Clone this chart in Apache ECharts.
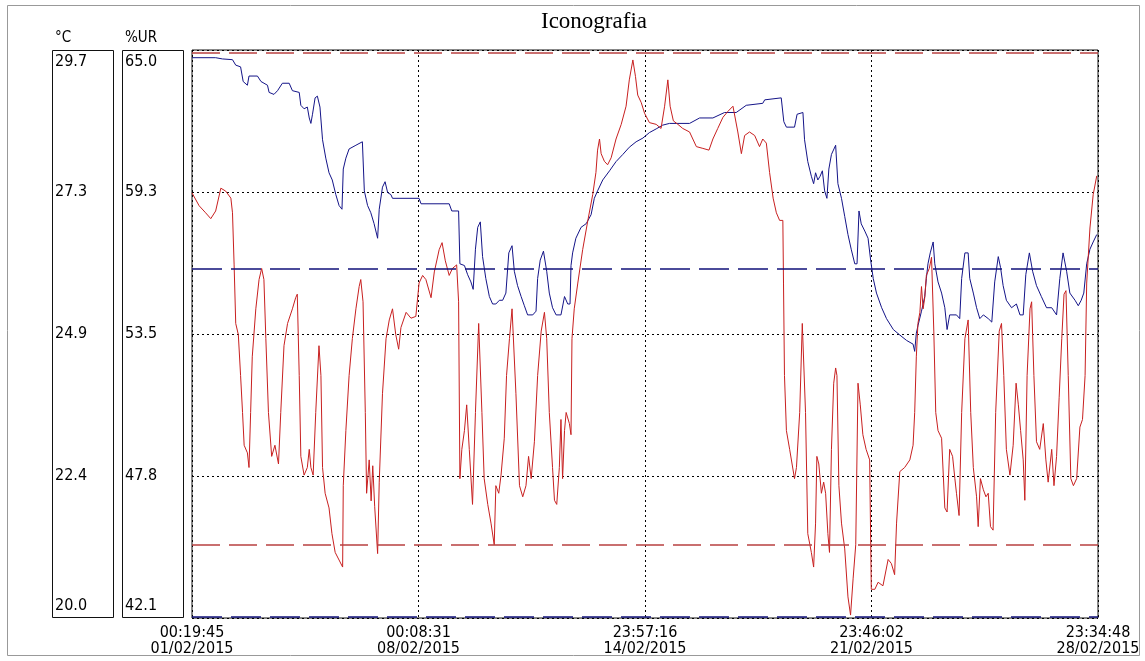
<!DOCTYPE html>
<html><head><meta charset="utf-8">
<script src="https://cdn.jsdelivr.net/npm/echarts@6/dist/echarts.min.js"></script>
<style>html,body{margin:0;padding:0;background:#fff}#c{width:1145px;height:661px}</style>
</head><body><div id="c"></div>
<script>
const chartTitle = 'Iconografia';
const xTickLabels = ['00:19:45\n01/02/2015','00:08:31\n08/02/2015','23:57:16\n14/02/2015','23:46:02\n21/02/2015','23:34:48\n28/02/2015'];
const tempTickLabels = ['20.0','22.4','24.9','27.3','29.7'];
const humTickLabels = ['42.1','47.8','53.5','59.3','65.0'];
const tempName = '°C';
const humName = '%UR';
const tempRange = [20.0, 29.7];
const humRange = [42.1, 65.0];
const tempLimits = [29.66, 21.25];
const humLimits = [56.2, 42.15];
const tickSpanSeconds = 604126; // 6d 23:48:46 between labelled ticks

// [days since 01/02/2015 00:19:45, °C]
const temperature = [[0,27.26],[0.06,27.29],[0.22,27.04],[0.42,26.92],[0.58,26.82],[0.73,26.95],[0.89,27.34],[1.04,27.29],[1.20,27.17],[1.25,26.92],[1.30,26.03],[1.35,25.03],[1.43,24.84],[1.50,24.14],[1.56,23.51],[1.61,22.95],[1.71,22.82],[1.76,22.57],[1.81,23.51],[1.86,24.46],[1.97,25.28],[2.07,25.78],[2.15,25.97],[2.22,25.78],[2.28,24.77],[2.36,23.51],[2.46,22.76],[2.56,22.95],[2.67,22.63],[2.74,23.51],[2.84,24.65],[2.95,25.03],[3.10,25.28],[3.20,25.47],[3.25,25.53],[3.31,24.14],[3.36,22.76],[3.46,22.44],[3.56,22.57],[3.62,22.88],[3.67,22.57],[3.74,22.44],[3.82,23.51],[3.92,24.65],[3.98,24.14],[4.03,22.57],[4.11,22.13],[4.23,21.88],[4.32,21.44],[4.42,21.12],[4.54,20.99],[4.65,20.87],[4.67,22.26],[4.75,23.20],[4.85,24.14],[4.95,24.77],[5.06,25.28],[5.16,25.66],[5.21,25.78],[5.28,25.40],[5.35,23.51],[5.39,22.13],[5.47,22.70],[5.53,22.0],[5.58,22.6],[5.64,21.9],[5.73,21.1],[5.78,22.32],[5.88,23.83],[5.99,24.77],[6.09,25.09],[6.19,25.28],[6.29,24.84],[6.38,24.59],[6.45,24.96],[6.61,25.22],[6.76,25.12],[6.91,25.15],[7.01,25.72],[7.12,25.85],[7.22,25.78],[7.38,25.47],[7.48,25.91],[7.63,26.29],[7.72,26.41],[7.82,26.10],[7.94,25.85],[8.04,25.97],[8.17,26.03],[8.23,25.40],[8.27,22.38],[8.33,22.88],[8.41,23.20],[8.48,23.64],[8.56,22.88],[8.66,21.94],[8.75,23.51],[8.85,25.03],[8.90,25.03],[8.95,23.51],[9.02,22.38],[9.13,21.94],[9.23,21.62],[9.33,21.25],[9.38,22.26],[9.47,22.13],[9.54,22.44],[9.64,23.07],[9.71,24.14],[9.80,24.77],[9.88,25.28],[9.93,25.28],[10.00,23.83],[10.11,22.26],[10.21,22.07],[10.31,22.26],[10.39,22.76],[10.47,22.38],[10.57,23.01],[10.67,24.14],[10.78,24.90],[10.88,25.22],[10.95,24.77],[11.03,23.51],[11.13,22.57],[11.19,22.01],[11.26,21.94],[11.34,22.57],[11.39,23.39],[11.44,22.38],[11.50,23.20],[11.55,23.51],[11.65,23.32],[11.70,23.13],[11.73,24.77],[11.80,25.28],[11.91,25.72],[12.06,26.29],[12.22,26.79],[12.37,27.23],[12.47,27.61],[12.52,27.99],[12.58,28.18],[12.63,27.93],[12.73,27.80],[12.83,27.74],[12.94,27.86],[13.09,28.18],[13.25,28.43],[13.40,28.74],[13.50,29.19],[13.61,29.53],[13.69,29.25],[13.76,28.93],[13.87,28.80],[13.97,28.62],[14.12,28.46],[14.33,28.43],[14.48,28.36],[14.59,28.74],[14.69,29.19],[14.76,28.74],[14.86,28.49],[15.00,28.43],[15.15,28.36],[15.36,28.30],[15.57,28.05],[15.77,28.02],[15.96,27.99],[16.08,28.18],[16.23,28.36],[16.39,28.55],[16.54,28.65],[16.70,28.74],[16.75,28.74],[16.85,28.30],[16.96,27.93],[17.06,28.24],[17.21,28.30],[17.37,28.24],[17.52,28.05],[17.62,28.18],[17.73,28.11],[17.83,27.61],[17.94,27.17],[18.04,26.92],[18.14,26.79],[18.24,26.79],[18.26,25.72],[18.29,24.14],[18.35,23.20],[18.45,22.88],[18.60,22.38],[18.66,22.57],[18.76,23.51],[18.84,25.03],[18.88,25.03],[18.94,23.51],[19.01,21.44],[19.12,21.12],[19.19,20.87],[19.25,21.62],[19.29,22.76],[19.35,22.63],[19.43,22.13],[19.50,22.32],[19.56,22.13],[19.63,21.44],[19.68,21.12],[19.74,22.88],[19.81,24.01],[19.87,24.27],[19.91,24.14],[19.97,22.26],[20.05,21.62],[20.15,21.18],[20.25,20.36],[20.33,20.05],[20.41,20.68],[20.49,21.25],[20.56,24.01],[20.63,23.64],[20.71,23.13],[20.81,22.88],[20.92,22.70],[20.97,20.49],[21.08,20.49],[21.18,20.61],[21.33,20.55],[21.49,21.00],[21.59,20.93],[21.69,20.74],[21.75,21.62],[21.85,22.50],[22.00,22.57],[22.16,22.70],[22.26,22.95],[22.31,23.51],[22.36,24.46],[22.41,25.03],[22.47,25.22],[22.52,25.66],[22.57,25.28],[22.62,25.47],[22.67,25.85],[22.76,25.97],[22.83,26.16],[22.90,24.90],[22.96,23.51],[23.03,23.20],[23.14,23.07],[23.24,21.88],[23.31,21.81],[23.39,22.88],[23.48,22.76],[23.55,22.38],[23.60,22.13],[23.68,21.75],[23.76,23.51],[23.86,24.77],[23.96,25.09],[24.04,23.51],[24.12,22.57],[24.22,22.07],[24.27,21.56],[24.34,22.38],[24.43,22.19],[24.51,22.07],[24.58,22.13],[24.65,21.56],[24.73,21.50],[24.81,23.51],[24.92,24.90],[24.99,25.03],[25.06,24.14],[25.14,22.88],[25.25,22.44],[25.35,22.95],[25.44,24.01],[25.51,23.64],[25.58,23.20],[25.66,22.70],[25.71,22.01],[25.78,24.14],[25.87,25.28],[25.92,25.40],[25.99,24.14],[26.07,23.01],[26.17,22.88],[26.28,23.32],[26.36,22.70],[26.43,22.32],[26.54,22.88],[26.61,22.26],[26.69,22.76],[26.77,23.77],[26.85,24.77],[26.92,25.53],[26.98,25.59],[27.05,24.14],[27.13,22.38],[27.21,22.26],[27.31,22.38],[27.41,23.26],[27.49,23.39],[27.57,24.14],[27.62,25.72],[27.72,26.66],[27.82,27.23],[27.93,27.55]];

// [days since 01/02/2015 00:19:45, %UR]
const humidity = [[0,64.69],[0.73,64.69],[0.76,64.75],[0.94,64.64],[1.25,64.61],[1.35,64.39],[1.50,64.32],[1.58,63.73],[1.71,63.58],[1.76,63.95],[2.02,63.95],[2.13,63.73],[2.33,63.58],[2.38,63.29],[2.53,63.21],[2.64,63.36],[2.79,63.66],[3.00,63.66],[3.10,63.36],[3.31,63.29],[3.36,62.77],[3.46,62.63],[3.56,62.70],[3.62,62.26],[3.67,62.04],[3.72,62.41],[3.80,63.07],[3.87,63.14],[3.95,62.70],[4.03,61.38],[4.13,60.64],[4.23,60.05],[4.33,59.76],[4.44,59.17],[4.54,58.73],[4.63,58.58],[4.67,60.20],[4.75,60.64],[4.85,61.01],[5.06,61.16],[5.26,61.30],[5.32,59.32],[5.42,58.73],[5.52,58.44],[5.62,58.00],[5.73,57.41],[5.78,58.58],[5.88,59.47],[5.96,59.69],[6.04,59.25],[6.14,59.17],[6.19,59.02],[7.01,59.02],[7.07,58.80],[7.94,58.80],[8.02,58.51],[8.23,58.51],[8.27,56.38],[8.41,56.31],[8.51,55.94],[8.61,55.65],[8.68,55.35],[8.75,56.97],[8.82,57.85],[8.90,58.07],[8.97,56.67],[9.07,55.79],[9.18,55.06],[9.28,54.76],[9.38,54.76],[9.49,54.91],[9.59,54.91],[9.69,55.20],[9.78,56.82],[9.88,57.11],[9.95,56.08],[10.05,55.50],[10.16,55.06],[10.26,54.69],[10.36,54.32],[10.52,54.32],[10.62,54.47],[10.67,55.79],[10.75,56.53],[10.85,56.89],[10.95,56.08],[11.03,55.20],[11.13,54.61],[11.24,54.32],[11.39,54.32],[11.50,55.06],[11.60,54.76],[11.67,54.76],[11.70,56.31],[11.75,56.82],[11.85,57.41],[12.01,57.85],[12.17,58.00],[12.32,58.36],[12.42,59.02],[12.52,59.32],[12.68,59.76],[12.89,60.13],[13.09,60.50],[13.30,60.79],[13.50,61.08],[13.71,61.30],[13.92,61.45],[14.12,61.67],[14.33,61.82],[14.53,61.97],[14.74,62.04],[15.36,62.04],[15.67,62.26],[16.08,62.26],[16.44,62.48],[16.80,62.48],[17.11,62.77],[17.62,62.85],[17.68,62.99],[18.19,63.07],[18.24,63.14],[18.27,62.11],[18.35,61.89],[18.60,61.89],[18.68,62.41],[18.86,62.48],[18.91,61.38],[19.01,60.50],[19.12,59.91],[19.19,59.61],[19.25,60.05],[19.32,59.76],[19.39,59.91],[19.46,60.13],[19.53,59.32],[19.60,59.02],[19.66,60.20],[19.74,60.79],[19.87,61.16],[19.94,59.61],[20.05,59.02],[20.15,58.29],[20.25,57.56],[20.35,56.97],[20.46,56.38],[20.53,56.38],[20.59,58.51],[20.66,57.99],[20.77,57.70],[20.87,57.41],[20.95,56.53],[21.03,55.79],[21.13,55.20],[21.29,54.61],[21.44,54.17],[21.65,53.73],[21.85,53.51],[22.06,53.29],[22.26,53.14],[22.31,52.85],[22.36,53.58],[22.41,53.88],[22.52,54.47],[22.62,55.06],[22.67,55.79],[22.72,56.38],[22.79,56.82],[22.88,57.26],[22.93,56.38],[23.03,55.65],[23.14,55.20],[23.24,54.61],[23.31,53.73],[23.39,54.32],[23.60,54.32],[23.70,54.17],[23.76,55.79],[23.86,56.82],[23.96,56.82],[24.01,55.79],[24.12,55.20],[24.22,54.61],[24.32,54.17],[24.43,54.32],[24.58,54.17],[24.69,54.03],[24.78,55.65],[24.89,56.67],[24.96,56.23],[25.04,55.50],[25.14,54.91],[25.30,54.61],[25.45,54.76],[25.56,54.32],[25.66,54.32],[25.74,55.94],[25.85,56.82],[25.95,56.08],[26.07,55.50],[26.22,55.06],[26.38,54.61],[26.54,54.61],[26.69,54.32],[26.79,55.79],[26.89,56.82],[27.00,56.08],[27.10,55.20],[27.26,54.91],[27.36,54.69],[27.45,54.91],[27.53,55.20],[27.62,56.38],[27.72,56.97],[27.82,57.26],[27.93,57.56]];

const FONT = "'DejaVu Sans Condensed','Liberation Sans Narrow','DejaVu Sans',sans-serif";
const xMax = tickSpanSeconds * 4;
const tempInterval = (tempRange[1] - tempRange[0]) / 4;
const humInterval = (humRange[1] - humRange[0]) / 4;

function yLabel(labels, interval) {
  return function (v) {
    const i = Math.round(v / interval);
    const s = labels[i];
    if (i === labels.length - 1) return '{top|' + s + '}';
    if (i === 0) return '{bot|' + s + '}';
    return '{mid|' + s + '}';
  };
}
const labelRich = {
  top: {fontFamily: FONT, fontSize: 16, color: '#000', padding: [24, 0, 0, 0]},
  bot: {fontFamily: FONT, fontSize: 16, color: '#000', padding: [0, 0, 24, 0]},
  mid: {fontFamily: FONT, fontSize: 16, color: '#000'}
};
const dotted = {color: '#000', width: 1, type: [2, 3]};

function yAxisCfg(offset, range, interval, labels, showSplit) {
  return {
    type: 'value', position: 'left', offset: offset,
    min: 0, max: range[1] - range[0], interval: interval,
    axisLine: {show: false}, axisTick: {show: false},
    splitLine: {show: showSplit, lineStyle: dotted},
    axisLabel: {inside: true, margin: 3, align: 'left', formatter: yLabel(labels, interval), rich: labelRich}
  };
}
const nameStyle = {fontFamily: FONT, fontSize: 15, fill: '#000', textVerticalAlign: 'bottom'};

const chart = echarts.init(document.getElementById('c'), null, {renderer: 'canvas'});
chart.setOption({
  animation: false,
  backgroundColor: '#fff',
  title: {text: chartTitle, left: 536, top: 5,
    textStyle: {fontFamily: "'Liberation Serif','DejaVu Serif',serif", fontSize: 23, fontWeight: 'normal', color: '#000'}},
  grid: {left: 192, right: 47, top: 50, bottom: 43, show: true, borderColor: '#111', borderWidth: 1,
    backgroundColor: 'transparent', containLabel: false, outerBoundsMode: 'none'},
  graphic: [
    {type: 'rect', shape: {x: 52.5, y: 50.5, width: 61, height: 567}, style: {fill: null, stroke: '#111', lineWidth: 1}, z: 10},
    {type: 'rect', shape: {x: 122.5, y: 50.5, width: 61, height: 567}, style: {fill: null, stroke: '#111', lineWidth: 1}, z: 10},
    {type: 'rect', shape: {x: 7.5, y: 5.5, width: 1132, height: 650}, style: {fill: null, stroke: '#999', lineWidth: 1}, z: 10},
    {type: 'text', x: 55, y: 46, style: Object.assign({text: tempName}, nameStyle), z: 10},
    {type: 'text', x: 125, y: 46, style: Object.assign({text: humName}, nameStyle), z: 10}
  ],
  xAxis: {
    type: 'value', min: 0, max: xMax, interval: tickSpanSeconds,
    axisLine: {show: false}, axisTick: {show: false},
    splitLine: {show: true, lineStyle: dotted},
    axisLabel: {margin: 7, fontFamily: FONT, fontSize: 16, lineHeight: 16, color: '#000',
      formatter: v => xTickLabels[Math.round(v / tickSpanSeconds)]}
  },
  yAxis: [
    yAxisCfg(140, tempRange, tempInterval, tempTickLabels, true),
    yAxisCfg(70, humRange, humInterval, humTickLabels, false)
  ],
  series: [
    {
      name: 'UR', type: 'line', yAxisIndex: 1, showSymbol: false, symbol: 'none',
      lineStyle: {color: '#141488', width: 1}, z: 3,
      data: humidity.map(p => [p[0] * 86400, p[1] - humRange[0]]),
      markLine: {silent: true, symbol: 'none', label: {show: false},
        lineStyle: {color: '#10107a', width: 1.6, type: [30, 9]},
        data: humLimits.map(v => ({yAxis: v - humRange[0]}))}
    },
    {
      name: 'T', type: 'line', yAxisIndex: 0, showSymbol: false, symbol: 'none',
      lineStyle: {color: '#c82020', width: 1}, z: 4,
      data: temperature.map(p => [p[0] * 86400, p[1] - tempRange[0]]),
      markLine: {silent: true, symbol: 'none', label: {show: false},
        lineStyle: {color: '#b84040', width: 1.5, type: [28, 9]},
        data: tempLimits.map(v => ({yAxis: v - tempRange[0]}))}
    }
  ]
});
</script></body></html>
